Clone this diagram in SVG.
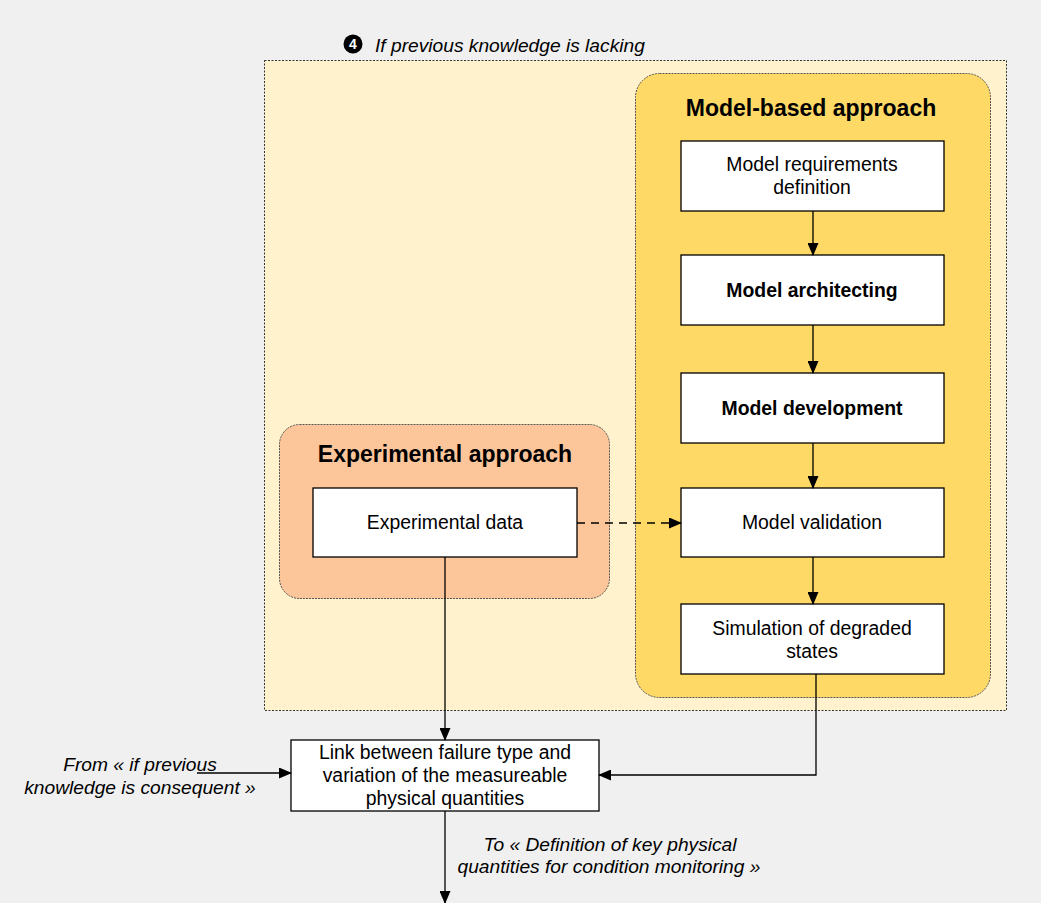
<svg xmlns="http://www.w3.org/2000/svg" width="1041" height="903" viewBox="0 0 1041 903">
<style>
text{font-family:"Liberation Sans",Arial,sans-serif;fill:#000}
.box{fill:#fff;stroke:#000;stroke-width:1.3}
.t{font-size:19.4px;text-anchor:middle}
.b{font-weight:bold}
.h{font-size:23px;font-weight:bold;text-anchor:middle}
.i{font-size:19.2px;font-style:italic;text-anchor:middle}
.c{fill:none;stroke:#000;stroke-width:1.3}
</style>
<defs>
<marker id="ar" markerWidth="13" markerHeight="11" refX="12" refY="5.5" orient="auto" markerUnits="userSpaceOnUse">
<path d="M0,0 L13,5.5 L0,11 Z" fill="#000"/>
</marker>
</defs>
<rect x="0" y="0" width="1041" height="903" fill="#f0f0f0"/>
<g id="lacking">
<rect x="264.5" y="60.5" width="742" height="650" fill="#fff2cc" stroke="#333" stroke-width="1" stroke-dasharray="2,1.5"/>
<circle cx="353" cy="44" r="9.5" fill="#000"/>
<text x="353" y="49" font-size="14" style="fill:#fff" text-anchor="middle" font-weight="bold">4</text>
<text x="375" y="52" font-size="19.2" font-style="italic">If previous knowledge is lacking</text>
</g>
<g id="model-based">
<rect x="635.5" y="73.5" width="355" height="624" rx="24" fill="#ffd966" stroke="#555" stroke-width="1" stroke-dasharray="2,1"/>
<text class="h" x="811" y="116">Model-based approach</text>
</g>
<g id="experimental">
<rect x="279.5" y="424.5" width="330" height="174" rx="20" fill="#fcc59a" stroke="#555" stroke-width="1" stroke-dasharray="2,1"/>
<text class="h" x="445" y="462">Experimental approach</text>
</g>
<g id="req"><rect class="box" x="681" y="141" width="263" height="70"/><text class="t" x="812" y="171">Model requirements</text><text class="t" x="812" y="194">definition</text></g>
<g id="arch"><rect class="box" x="681" y="255" width="263" height="70"/><text class="t b" x="812" y="297">Model architecting</text></g>
<g id="dev"><rect class="box" x="681" y="373" width="263" height="70"/><text class="t b" x="812" y="415">Model development</text></g>
<g id="valid"><rect class="box" x="681" y="488" width="263" height="69"/><text class="t" x="812" y="529">Model validation</text></g>
<g id="sim"><rect class="box" x="681" y="604" width="263" height="70"/><text class="t" x="812" y="635">Simulation of degraded</text><text class="t" x="812" y="658">states</text></g>
<g id="expdata"><rect class="box" x="313" y="488" width="264" height="69"/><text class="t" x="445" y="529">Experimental data</text></g>
<g id="link"><rect class="box" x="291" y="740" width="308" height="71"/><text class="t" x="445" y="759">Link between failure type and</text><text class="t" x="445" y="782">variation of the measureable</text><text class="t" x="445" y="805">physical quantities</text></g>
<g id="labels">
<text class="i" x="140" y="771">From « if previous</text>
<text class="i" x="140" y="794">knowledge is consequent »</text>
<text class="i" x="610" y="851">To « Definition of key physical</text>
<text class="i" x="609" y="873">quantities for condition monitoring »</text>
</g>
<g id="connectors">
<line class="c" x1="813" y1="211" x2="813" y2="255" marker-end="url(#ar)"/>
<line class="c" x1="813" y1="325" x2="813" y2="373" marker-end="url(#ar)"/>
<line class="c" x1="813" y1="443" x2="813" y2="488" marker-end="url(#ar)"/>
<line class="c" x1="813" y1="557" x2="813" y2="604" marker-end="url(#ar)"/>
<line class="c" x1="577" y1="523" x2="681" y2="523" stroke-dasharray="8,6" marker-end="url(#ar)"/>
<line class="c" x1="445" y1="557" x2="445" y2="740" marker-end="url(#ar)"/>
<polyline class="c" points="816,674 816,775 599,775" marker-end="url(#ar)"/>
<line class="c" x1="197" y1="773" x2="291" y2="773" marker-end="url(#ar)"/>
<line class="c" x1="445" y1="811" x2="445" y2="903" marker-end="url(#ar)"/>
</g>
</svg>
